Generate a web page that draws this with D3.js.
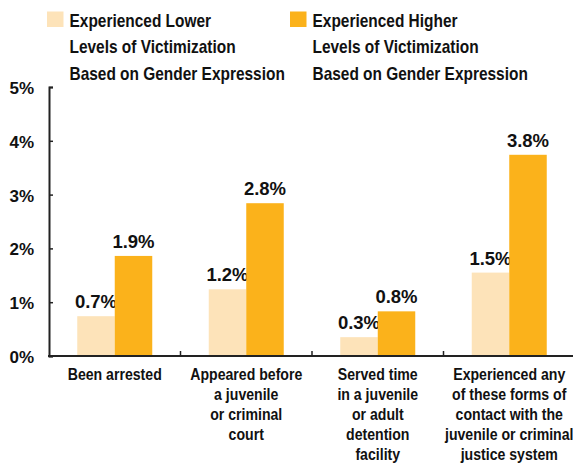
<!DOCTYPE html>
<html><head><meta charset="utf-8">
<script src="https://cdn.jsdelivr.net/npm/d3@7"></script>
<style>body{margin:0;background:#fff}svg{display:block}</style>
</head><body>
<svg id="c" width="573" height="466"></svg>
<script>
const categories = [
  ["Been arrested"],
  ["Appeared before","a juvenile","or criminal","court"],
  ["Served time","in a juvenile","or adult","detention","facility"],
  ["Experienced any","of these forms of","contact with the","juvenile or criminal","justice system"]
];
const seriesNames = [
  ["Experienced Lower","Levels of Victimization","Based on Gender Expression"],
  ["Experienced Higher","Levels of Victimization","Based on Gender Expression"]
];
const lowerValues = [0.74, 1.24, 0.35, 1.55];
const higherValues = [1.86, 2.84, 0.83, 3.74];
const lowerLabels = ["0.7%","1.2%","0.3%","1.5%"];
const higherLabels = ["1.9%","2.8%","0.8%","3.8%"];
const yTicks = [0,1,2,3,4,5];
const colors = ["#FDE3B9","#FBB21B"];

const svg = d3.select("#c");
const font = "'Liberation Sans',Arial,Helvetica,sans-serif";
const x0 = 49, x1 = 575, yTop = 87, yBot = 356;
const x = d3.scaleBand().domain(d3.range(categories.length)).range([x0, x1]);
const y = d3.scaleLinear().domain([0,5]).range([yBot, yTop]);
const barW = 37.5;
const sub = d3.scaleBand().domain([0,1]).range([-barW, barW]);

// bars
const data = [lowerValues, higherValues];
const labels = [lowerLabels, higherLabels];
data.forEach((vals, s) => {
  svg.append("g").selectAll("rect").data(vals).join("rect")
    .attr("x", (d,i) => x(i) + x.bandwidth()/2 + sub(s))
    .attr("width", sub.bandwidth())
    .attr("y", d => y(d))
    .attr("height", d => yBot - y(d))
    .attr("fill", colors[s]);
  svg.append("g").selectAll("text").data(vals).join("text")
    .attr("x", (d,i) => x(i) + x.bandwidth()/2 + sub(s) + sub.bandwidth()/2)
    .attr("y", d => y(d) - 8)
    .attr("text-anchor","middle")
    .attr("font-family", font).attr("font-weight","bold").attr("font-size", 18.5)
    .attr("fill","#111")
    .text((d,i) => labels[s][i]);
});

// y axis
const yAxis = d3.axisRight(y).tickValues(yTicks).tickSize(4).tickFormat("");
const ya = svg.append("g").attr("transform", `translate(${x0},0)`).call(yAxis);
ya.select(".domain").attr("stroke","#222").attr("stroke-width",2);
ya.selectAll(".tick line").attr("stroke","#222").attr("stroke-width",1.5);
svg.append("g").selectAll("text").data(yTicks).join("text")
  .attr("x", 34).attr("y", d => y(d) + 7)
  .attr("text-anchor","end")
  .attr("font-family", font).attr("font-weight","bold").attr("font-size", 17)
  .attr("fill","#111")
  .text(d => d + "%");

// x axis
svg.append("line").attr("x1", x0-1).attr("x2", x1).attr("y1", yBot).attr("y2", yBot)
  .attr("stroke","#222").attr("stroke-width",2);
svg.append("g").selectAll("line").data(d3.range(1, categories.length)).join("line")
  .attr("x1", d => x(d)).attr("x2", d => x(d))
  .attr("y1", yBot).attr("y2", yBot - 5)
  .attr("stroke","#222").attr("stroke-width",1.5);

// category labels (condensed)
categories.forEach((lines, i) => {
  const t = svg.append("text")
    .attr("transform", `translate(${x(i) + x.bandwidth()/2},380) scale(0.83,1)`)
    .attr("text-anchor","middle")
    .attr("font-family", font).attr("font-weight","bold").attr("font-size", 17)
    .attr("fill","#111");
  lines.forEach((ln, j) => {
    t.append("tspan").attr("x", 0).attr("y", j*20).text(ln);
  });
});

// legend
const legX = [47, 290];
seriesNames.forEach((lines, s) => {
  svg.append("rect").attr("x", legX[s]).attr("y", 11.5).attr("width", 16.5).attr("height", 15.5).attr("fill", colors[s]);
  const t = svg.append("text")
    .attr("transform", `translate(${legX[s] + 22.5},26.7) scale(0.835,1)`)
    .attr("font-family", font).attr("font-weight","bold").attr("font-size", 18.5)
    .attr("fill","#111");
  lines.forEach((ln, j) => {
    t.append("tspan").attr("x", 0).attr("y", j*26.6).text(ln);
  });
});
</script>
</body></html>
